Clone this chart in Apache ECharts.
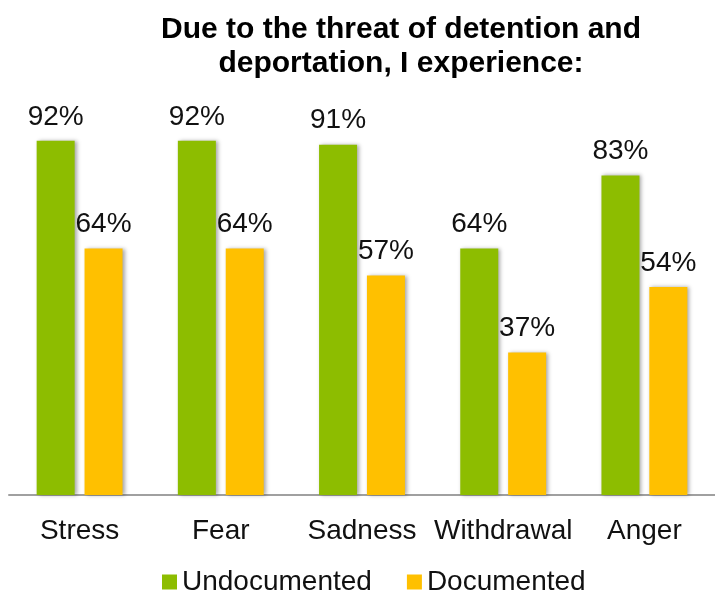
<!DOCTYPE html>
<html>
<head>
<meta charset="utf-8">
<script src="https://cdn.jsdelivr.net/npm/echarts@6/dist/echarts.min.js"></script>
<style>html,body{margin:0;padding:0;background:#fff}#c{width:715px;height:593px}</style>
</head>
<body>
<div id="c"></div>
<script>
const categories = ['Stress', 'Fear', 'Sadness', 'Withdrawal', 'Anger'];
const undocumented = [92, 92, 91, 64, 83];
const documented = [64, 64, 57, 37, 54];
const seriesNames = ['Undocumented', 'Documented'];
const titleText = 'Due to the threat of detention and\ndeportation, I experience:';

const FONT = '"Liberation Sans", Arial, sans-serif';
const chart = echarts.init(document.getElementById('c'), null, {renderer: 'canvas'});
const barStyle = (color) => ({
  color: color,
  shadowColor: 'rgba(0,0,0,0.35)',
  shadowBlur: 4,
  shadowOffsetX: 2,
  shadowOffsetY: 0
});
const labelCfg = {
  show: true,
  position: 'top',
  distance: 10,
  formatter: '{c}%',
  fontFamily: FONT,
  fontSize: 28,
  color: '#111'
};
chart.setOption({
  animation: false,
  backgroundColor: '#fff',
  title: {
    text: titleText,
    left: 396,
    textAlign: 'center',
    top: 8,
    textStyle: {
      fontFamily: FONT,
      fontWeight: 'bold',
      fontSize: 30,
      lineHeight: 34,
      color: '#000'
    }
  },
  legend: {
    data: seriesNames,
    top: 563,
    left: 157,
    itemWidth: 15,
    itemHeight: 15,
    itemGap: 35,
    icon: 'rect',
    textStyle: {fontFamily: FONT, fontSize: 28, color: '#111'}
  },
  grid: {left: 9, top: 110, width: 712, height: 385, containLabel: false},
  xAxis: {
    type: 'category',
    data: categories,
    axisLine: {show: true, lineStyle: {color: '#a0a0a0', width: 2}},
    axisTick: {show: false},
    axisLabel: {fontFamily: FONT, fontSize: 28, color: '#111', margin: 22, interval: 0}
  },
  yAxis: {
    type: 'value',
    min: 0,
    max: 100,
    show: false,
    splitLine: {show: false}
  },
  series: [
    {
      name: seriesNames[0],
      type: 'bar',
      data: undocumented,
      barWidth: 38,
      barGap: '26%',
      itemStyle: barStyle('#8dbd00'),
      label: labelCfg
    },
    {
      name: seriesNames[1],
      type: 'bar',
      data: documented,
      barWidth: 38,
      itemStyle: barStyle('#ffc000'),
      label: labelCfg
    }
  ]
});
</script>
</body>
</html>
